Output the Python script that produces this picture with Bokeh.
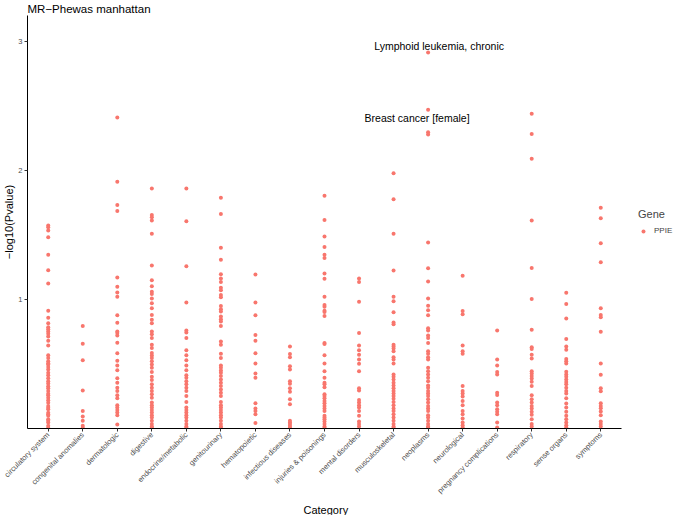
import math
from bokeh.plotting import figure
from bokeh.models import (ColumnDataSource, Range1d, FixedTicker, Legend, LegendItem, Title)
from bokeh.core.properties import value
from bokeh.embed import file_html
from bokeh.resources import INLINE

categories = ["circulatory system", "congenital anomalies", "dermatologic", "digestive",
              "endocrine/metabolic", "genitourinary", "hematopoietic", "infectious diseases",
              "injuries & poisonings", "mental disorders", "musculoskeletal", "neoplasms",
              "neurological", "pregnancy complications", "respiratory", "sense organs", "symptoms"]

circulatory = [1.572, 1.559, 1.534, 1.482, 1.346, 1.226, 1.123, 0.913, 0.859, 0.815, 0.785, 0.769,
               0.751, 0.734, 0.713, 0.680, 0.644, 0.567, 0.546, 0.521, 0.495, 0.477, 0.457, 0.431,
               0.413, 0.367, 0.349, 0.328, 0.311, 0.290, 0.257, 0.238, 0.218, 0.200, 0.175, 0.149,
               0.123, 0.098, 0.072, 0.046, 0.021, 0.005, 0.060, 0.110, 0.160, 0.270, 0.390, 0.505]
congenital = [0.795, 0.657, 0.529, 0.295, 0.136, 0.093, 0.060, 0.021, 0.005]
dermatologic = [2.410, 1.911, 1.731, 1.685, 1.170, 1.098, 1.054, 1.021, 0.877, 0.819, 0.752, 0.739,
                0.721, 0.665, 0.583, 0.524, 0.488, 0.452, 0.390, 0.354, 0.316, 0.290, 0.257, 0.234,
                0.180, 0.162, 0.144, 0.124, 0.103, 0.031]
digestive = [1.860, 1.654, 1.636, 1.611, 1.508, 1.262, 1.149, 1.103, 1.060, 1.042, 1.008, 0.970,
             0.931, 0.880, 0.842, 0.816, 0.752, 0.731, 0.701, 0.649, 0.624, 0.585, 0.565, 0.547,
             0.521, 0.496, 0.470, 0.437, 0.401, 0.375, 0.342, 0.316, 0.290, 0.265, 0.239, 0.201,
             0.180, 0.162, 0.144, 0.124, 0.103, 0.085, 0.060, 0.034, 0.016, 0.005]
endocrine = [1.860, 1.606, 1.257, 0.977, 0.760, 0.744, 0.701, 0.606, 0.567, 0.529, 0.488, 0.452,
             0.413, 0.393, 0.367, 0.342, 0.316, 0.290, 0.252, 0.206, 0.162, 0.144, 0.124, 0.103,
             0.085, 0.060, 0.034, 0.016, 0.005]
genitourinary = [1.788, 1.662, 1.401, 1.308, 1.195, 1.162, 1.136, 1.090, 1.072, 1.034, 1.016, 0.949,
                 0.924, 0.906, 0.867, 0.847, 0.829, 0.795, 0.675, 0.649, 0.580, 0.547, 0.488, 0.470,
                 0.449, 0.431, 0.406, 0.380, 0.354, 0.329, 0.303, 0.277, 0.252, 0.206, 0.180, 0.162,
                 0.144, 0.124, 0.103, 0.085, 0.060, 0.034, 0.016, 0.005]
hematopoietic = [1.193, 0.977, 0.877, 0.724, 0.680, 0.583, 0.503, 0.426, 0.393, 0.195, 0.154, 0.136,
                 0.111, 0.042]
infectious = [0.636, 0.577, 0.552, 0.483, 0.457, 0.367, 0.347, 0.311, 0.285, 0.226, 0.188, 0.060,
              0.047, 0.034, 0.021, 0.008]
injuries = [1.803, 1.616, 1.488, 1.406, 1.347, 1.321, 1.201, 1.160, 1.021, 0.957, 0.944, 0.913,
            0.903, 0.872, 0.662, 0.654, 0.567, 0.503, 0.444, 0.393, 0.354, 0.342, 0.319, 0.265,
            0.252, 0.234, 0.213, 0.195, 0.175, 0.154, 0.136, 0.098, 0.085, 0.072, 0.054, 0.034,
            0.016, 0.005]
mental = [1.162, 1.136, 0.983, 0.739, 0.644, 0.606, 0.572, 0.534, 0.501, 0.444, 0.311, 0.295,
          0.221, 0.201, 0.180, 0.162, 0.136, 0.098, 0.054, 0.034, 0.016]
musculoskeletal = [1.977, 1.777, 1.508, 1.224, 1.021, 0.985, 0.901, 0.821, 0.808, 0.649, 0.636,
                   0.619, 0.598, 0.552, 0.534, 0.503, 0.419, 0.401, 0.380, 0.354, 0.334, 0.311,
                   0.290, 0.272, 0.252, 0.231, 0.206, 0.180, 0.154, 0.136, 0.111, 0.085, 0.060,
                   0.034, 0.016, 0.005]
neoplasms = [2.913, 2.469, 2.295, 2.277, 1.442, 1.242, 1.139, 1.008, 0.952, 0.916, 0.877, 0.777,
             0.760, 0.721, 0.701, 0.662, 0.598, 0.580, 0.552, 0.534, 0.470, 0.444, 0.419, 0.393,
             0.367, 0.334, 0.316, 0.290, 0.272, 0.252, 0.226, 0.201, 0.175, 0.154, 0.136, 0.103,
             0.085, 0.060, 0.034, 0.016, 0.005]
neurological = [1.183, 0.911, 0.885, 0.644, 0.598, 0.580, 0.329, 0.290, 0.272, 0.247, 0.213, 0.180,
                0.136, 0.111, 0.077, 0.047, 0.026, 0.008]
pregnancy = [0.760, 0.534, 0.488, 0.437, 0.419, 0.277, 0.260, 0.201, 0.180, 0.149, 0.129, 0.111,
             0.047, 0.008]
respiratory = [2.438, 2.282, 2.090, 1.611, 1.244, 1.003, 0.765, 0.629, 0.616, 0.572, 0.542, 0.444,
               0.426, 0.406, 0.388, 0.362, 0.329, 0.257, 0.226, 0.201, 0.175, 0.154, 0.129, 0.106,
               0.072, 0.034, 0.016]
sense_organs = [1.052, 0.965, 0.852, 0.693, 0.636, 0.611, 0.539, 0.521, 0.503, 0.439, 0.419, 0.401,
                0.380, 0.360, 0.342, 0.316, 0.290, 0.272, 0.234, 0.193, 0.162, 0.129, 0.098, 0.072,
                0.047, 0.026, 0.008]
symptoms = [1.711, 1.629, 1.436, 1.288, 0.931, 0.880, 0.862, 0.749, 0.503, 0.416, 0.311, 0.288,
            0.195, 0.175, 0.157, 0.131, 0.103, 0.054, 0.034, 0.016]

series = [circulatory, congenital, dermatologic, digestive, endocrine, genitourinary, hematopoietic,
          infectious, injuries, mental, musculoskeletal, neoplasms, neurological, pregnancy,
          respiratory, sense_organs, symptoms]

label_texts = ["Lymphoid leukemia, chronic", "Breast cancer [female]"]
label_category = ["neoplasms", "neoplasms"]
label_values = [2.913, 2.469]

FONT = "Liberation Sans"
AXIS_W = 594      # width of the panel part covered by the x axis
LEGEND_W = 53     # room at the right of the panel for the legend
FRAME_H = 413

n = len(categories)
x_lo, x_hi = 0.4, n + 0.6
x_end = x_hi + LEGEND_W * (x_hi - x_lo) / AXIS_W

xs, ys = [], []
for i, vals in enumerate(series):
    for v in vals:
        xs.append(i + 1)
        ys.append(v)
src = ColumnDataSource(dict(x=xs, y=ys))

p = figure(frame_width=AXIS_W + LEGEND_W, frame_height=FRAME_H, output_backend="svg",
           toolbar_location=None,
           x_range=Range1d(x_lo, x_end), y_range=Range1d(0, 3.2),
           title="MR\u2212Phewas manhattan")
p.min_border_left = 26
p.min_border_right = 0
p.min_border_top = 0
p.min_border_bottom = 0
p.outline_line_color = None
p.grid.visible = False

p.title.text_font = FONT
p.title.text_font_size = "11.5px"
p.title.text_font_style = "normal"
p.title.text_color = "black"
p.title.standoff = 1
p.title.offset = 0

r = p.scatter("x", "y", source=src, size=4, fill_color="#F8766D", line_color=None)

lsrc = ColumnDataSource(dict(x=[categories.index(c) + 1 for c in label_category],
                             y=label_values, t=label_texts, dx=[11, -11], dy=[-7, 8]))
p.text("x", "y", text="t", source=lsrc, x_offset="dx", y_offset="dy",
       text_align="center", text_baseline="middle", text_font=value(FONT),
       text_font_size="10.5px", text_color="black")

for ax in (p.xaxis[0], p.yaxis[0]):
    ax.axis_line_color = "black"
    ax.axis_line_width = 1
    ax.major_tick_line_color = "#333333"
    ax.major_tick_out = 3
    ax.major_tick_in = 0
    ax.minor_tick_line_color = None
    ax.major_label_text_font = FONT
    ax.major_label_text_font_size = "7.5px"
    ax.major_label_text_color = "#4D4D4D"
    ax.axis_label_text_font = FONT
    ax.axis_label_text_font_size = "11px"
    ax.axis_label_text_font_style = "normal"
    ax.axis_label_text_color = "black"
    ax.major_label_standoff = 2
    ax.axis_label_standoff = 0

p.xaxis.bounds = (x_lo, x_hi)
p.xaxis.ticker = FixedTicker(ticks=list(range(1, n + 1)))
p.xaxis.major_label_overrides = {i + 1: c for i, c in enumerate(categories)}
p.xaxis.major_label_orientation = math.pi / 4
p.yaxis.ticker = FixedTicker(ticks=[1, 2, 3])
p.yaxis.axis_label = "\u2212log10(Pvalue)"

# x axis title, centred under the axis line (not under the legend room)
xtitle = Title(text="Category", align="left", offset=AXIS_W / 2 - 21,
               text_font=FONT, text_font_size="11px", text_font_style="normal",
               text_color="black", standoff=0)
p.add_layout(xtitle, "below")

legend = Legend(items=[LegendItem(label="PPIE", renderers=[r])], title="Gene",
                location="center_right")
legend.border_line_color = None
legend.background_fill_alpha = 0
legend.title_text_font = FONT
legend.title_text_font_size = "11px"
legend.title_text_font_style = "normal"
legend.label_text_font = FONT
legend.label_text_font_size = "8px"
legend.glyph_width = 10
legend.glyph_height = 10
legend.label_standoff = 6
legend.padding = 2
legend.margin = 0
legend.title_standoff = 6
p.add_layout(legend, "center")

open("out.html", "w").write(file_html(p, INLINE))
